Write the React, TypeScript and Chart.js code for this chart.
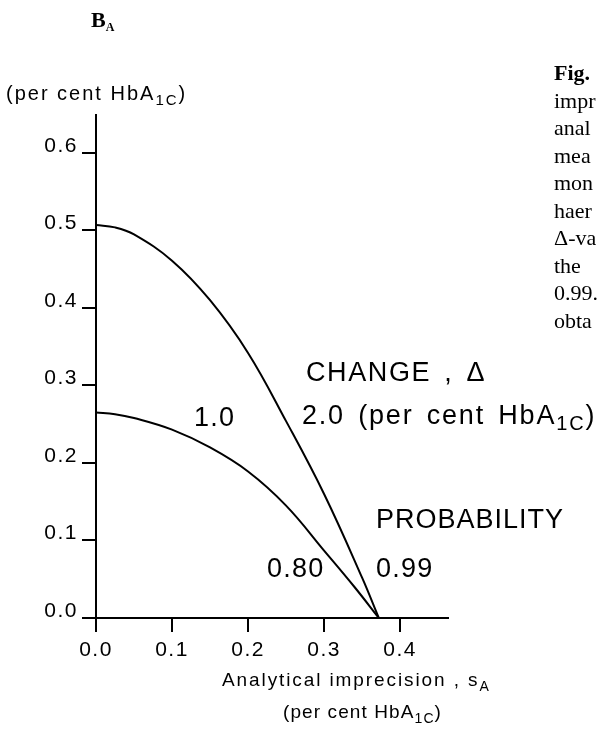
import React, { useEffect, useRef } from 'react';
import { Chart, registerables } from 'chart.js';

Chart.register(...registerables);

// Allowable bias B_A versus analytical imprecision s_A (per cent HbA1C)
const sA_change2_p99 = [0, 0.025, 0.05, 0.1, 0.15, 0.2, 0.25, 0.3, 0.35, 0.372];
const BA_change2_p99 = [0.507, 0.504, 0.495, 0.461, 0.41, 0.342, 0.254, 0.16, 0.052, 0.0];
const sA_change1_p80 = [0, 0.025, 0.05, 0.1, 0.15, 0.2, 0.25, 0.3, 0.34, 0.372];
const BA_change1_p80 = [0.265, 0.263, 0.258, 0.243, 0.22, 0.189, 0.145, 0.087, 0.04, 0.0];

const xTickValues = [0, 0.1, 0.2, 0.3, 0.4];
const yTickValues = [0, 0.1, 0.2, 0.3, 0.4, 0.5, 0.6];
const xMax = 0.463;
const yMax = 0.649;

const captionFragments = ['Fig.', 'impr', 'anal', 'mea', 'mon', 'haer', 'Δ-va', 'the', '0.99.', 'obta'];

const SANS = '"Liberation Sans", Arial, sans-serif';
const SERIF = '"Liberation Serif", "Times New Roman", serif';

type Part = { t: string; sub?: boolean };

function drawParts(
  ctx: CanvasRenderingContext2D,
  parts: Part[],
  x: number,
  y: number,
  size: number,
  subSize: number,
  subDrop: number,
  spacing: number,
  family: string,
  weight = 'normal',
  wordSpacing = 0
) {
  let cx = x;
  for (const p of parts) {
    ctx.font = `${weight} ${p.sub ? subSize : size}px ${family}`;
    (ctx as any).letterSpacing = `${spacing}px`;
    (ctx as any).wordSpacing = `${wordSpacing}px`;
    ctx.fillText(p.t, cx, p.sub ? y + subDrop : y);
    cx += ctx.measureText(p.t).width;
  }
  (ctx as any).wordSpacing = '0px';
}

const textPlugin = {
  id: 'textPlugin',
  beforeDraw(chart: any) {
    (chart.ctx as any).letterSpacing = '1.5px';
  },
  afterDraw(chart: any) {
    const ctx: CanvasRenderingContext2D = chart.ctx;
    ctx.save();
    ctx.fillStyle = '#000';
    ctx.textAlign = 'left';
    ctx.textBaseline = 'alphabetic';

    // Panel label B_A
    drawParts(ctx, [{ t: 'B' }, { t: 'A', sub: true }], 91, 27, 22, 12, 4, 0, SERIF, 'bold');

    // Y axis title
    drawParts(ctx, [{ t: '(per cent HbA' }, { t: '1C', sub: true }, { t: ')' }], 6, 100, 20, 15, 5, 2.0, SANS);

    // X axis title
    drawParts(ctx, [{ t: 'Analytical imprecision , s' }, { t: 'A', sub: true }], 222, 686, 19, 14, 5, 1.9, SANS);
    drawParts(ctx, [{ t: '(per cent HbA' }, { t: '1C', sub: true }, { t: ')' }], 283, 718, 19, 14, 5, 1.1, SANS);

    // Annotations
    drawParts(ctx, [{ t: 'CHANGE , Δ' }], 306, 381, 27, 20, 6, 1.6, SANS, 'normal', 4);
    drawParts(ctx, [{ t: '2.0 (per cent HbA' }, { t: '1C', sub: true }, { t: ')' }], 302, 424, 27, 20, 6, 1.8, SANS, 'normal', 4);
    drawParts(ctx, [{ t: '1.0' }], 194, 426, 27, 20, 6, 1.2, SANS);
    drawParts(ctx, [{ t: 'PROBABILITY' }], 376, 528, 27, 20, 6, 1.0, SANS);
    drawParts(ctx, [{ t: '0.80' }], 267, 577, 27, 20, 6, 1.2, SANS);
    drawParts(ctx, [{ t: '0.99' }], 376, 577, 27, 20, 6, 1.2, SANS);

    // Caption column (cut off at the right edge)
    captionFragments.forEach((f, i) => {
      drawParts(ctx, [{ t: f }], 554, 80 + i * 27.5, 22, 14, 5, 0, SERIF, i === 0 ? 'bold' : 'normal');
    });
    ctx.restore();
  },
};

export default function App() {
  const ref = useRef<HTMLCanvasElement | null>(null);

  useEffect(() => {
    if (!ref.current) return;
    const chart = new Chart(ref.current, {
      type: 'line',
      data: {
        datasets: [
          {
            label: 'CHANGE 2.0, PROBABILITY 0.99',
            data: sA_change2_p99.map((x, i) => ({ x, y: BA_change2_p99[i] })),
            borderColor: '#000',
            borderWidth: 2,
            pointRadius: 0,
            tension: 0.4,
            fill: false,
          },
          {
            label: 'CHANGE 1.0, PROBABILITY 0.80',
            data: sA_change1_p80.map((x, i) => ({ x, y: BA_change1_p80[i] })),
            borderColor: '#000',
            borderWidth: 2,
            pointRadius: 0,
            tension: 0.4,
            fill: false,
          },
        ],
      },
      options: {
        animation: false,
        responsive: false,
        devicePixelRatio: 1,
        layout: { padding: { left: 0, top: 115, right: 153, bottom: 0 } },
        plugins: { legend: { display: false }, tooltip: { enabled: false } },
        scales: {
          x: {
            type: 'linear',
            min: 0,
            max: xMax,
            afterFit: (s: any) => {
              s.height = 732 - 618;
            },
            afterBuildTicks: (s: any) => {
              s.ticks = xTickValues.map((v) => ({ value: v }));
            },
            border: { display: true, color: '#000', width: 2 },
            grid: { drawOnChartArea: false, drawTicks: true, tickLength: 14, color: '#000', lineWidth: 2 },
            ticks: {
              includeBounds: false,
              color: '#000',
              padding: 6,
              maxRotation: 0,
              font: { family: SANS, size: 21 },
              callback: (v: any) => Number(v).toFixed(1),
            },
          },
          y: {
            type: 'linear',
            min: 0,
            max: yMax,
            afterFit: (s: any) => {
              s.width = 96;
            },
            afterBuildTicks: (s: any) => {
              s.ticks = yTickValues.map((v) => ({ value: v }));
            },
            border: { display: true, color: '#000', width: 2 },
            grid: { drawOnChartArea: false, drawTicks: true, tickLength: 14, color: '#000', lineWidth: 2 },
            ticks: {
              includeBounds: false,
              color: '#000',
              padding: 4,
              labelOffset: -7,
              font: { family: SANS, size: 21 },
              callback: (v: any) => Number(v).toFixed(1),
            },
          },
        },
      },
      plugins: [textPlugin],
    });
    return () => chart.destroy();
  }, []);

  return (
    <div style={{ position: 'absolute', left: 0, top: 0, width: 601, height: 732, background: '#fff' }}>
      <canvas ref={ref} width={601} height={732} style={{ width: 601, height: 732, display: 'block' }} />
    </div>
  );
}
